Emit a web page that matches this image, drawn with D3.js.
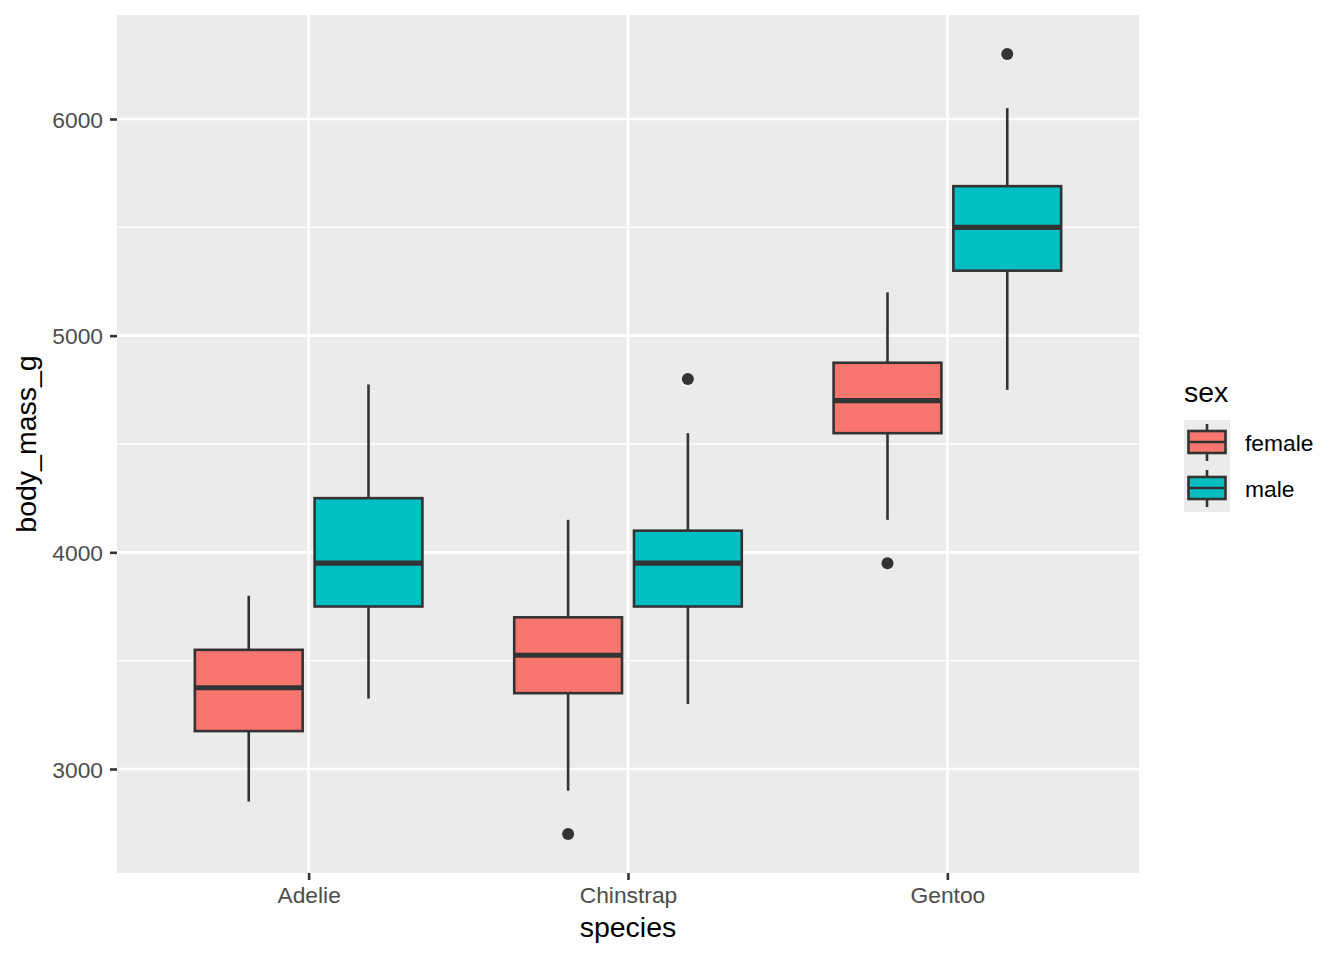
<!DOCTYPE html>
<html>
<head>
<meta charset="utf-8">
<script src="https://cdn.jsdelivr.net/npm/d3@7"></script>
<style>
  body { margin: 0; background: #fff; }
  text { font-family: "Liberation Sans", Arial, sans-serif; }
</style>
</head>
<body>
<svg id="chart" width="1344" height="960"></svg>
<script>
// boxplot stats, order: Adelie f/m, Chinstrap f/m, Gentoo f/m
const species = ["Adelie", "Chinstrap", "Gentoo"];
const sexes = ["female", "male"];
const lowerWhisker = [2850, 3325, 2900, 3300, 4150, 4750];
const q1 = [3175, 3750, 3350, 3750, 4550, 5300];
const median = [3375, 3950, 3525, 3950, 4700, 5500];
const q3 = [3550, 4250, 3700, 4100, 4875, 5690];
const upperWhisker = [3800, 4775, 4150, 4550, 5200, 6050];
const outliers = [
  {species: "Chinstrap", sex: "female", value: 2700},
  {species: "Chinstrap", sex: "male", value: 4800},
  {species: "Gentoo", sex: "female", value: 3950},
  {species: "Gentoo", sex: "male", value: 6300}
];
const yTicks = [3000, 4000, 5000, 6000];
const yMinor = [3500, 4500, 5500];
const fills = ["#F8766D", "#00BFC4"];

const boxes = [];
species.forEach((s, i) => sexes.forEach((g, j) => {
  const k = i * 2 + j;
  boxes.push({species: s, sex: g, lo: lowerWhisker[k], q1: q1[k], med: median[k], q3: q3[k], hi: upperWhisker[k]});
}));

const svg = d3.select("#chart");
const panel = {left: 117, right: 1139, top: 15, bottom: 873};
const ink = "#333333";
const lw = 2.6;
const tickFont = "22.8px", titleFont = "28.5px";

const x = d3.scalePoint().domain(species).range([panel.left, panel.right]).padding(0.6);
const dodge = x.step() * 0.75;
const xs = d3.scaleBand().domain(sexes).range([-dodge / 2, dodge / 2]);
const boxW = xs.bandwidth() * 0.9;
const y = d3.scaleLinear().domain([2520, 6480]).range([panel.bottom, panel.top]);
const color = d3.scaleOrdinal().domain(sexes).range(fills);
const cx = d => x(d.species) + xs(d.sex) + xs.bandwidth() / 2;

// panel
svg.append("rect")
  .attr("x", panel.left).attr("y", panel.top)
  .attr("width", panel.right - panel.left).attr("height", panel.bottom - panel.top)
  .attr("fill", "#EBEBEB");

const grid = svg.append("g");
grid.selectAll(".minor").data(yMinor).join("line")
  .attr("x1", panel.left).attr("x2", panel.right)
  .attr("y1", d => y(d)).attr("y2", d => y(d))
  .attr("stroke", "#fff").attr("stroke-width", lw / 2);
grid.selectAll(".major").data(yTicks).join("line")
  .attr("x1", panel.left).attr("x2", panel.right)
  .attr("y1", d => y(d)).attr("y2", d => y(d))
  .attr("stroke", "#fff").attr("stroke-width", lw);
grid.selectAll(".vmajor").data(species).join("line")
  .attr("x1", d => x(d)).attr("x2", d => x(d))
  .attr("y1", panel.top).attr("y2", panel.bottom)
  .attr("stroke", "#fff").attr("stroke-width", lw);

// boxes
const bx = svg.append("g").selectAll("g").data(boxes).join("g");
bx.append("line")
  .attr("x1", cx).attr("x2", cx)
  .attr("y1", d => y(d.hi)).attr("y2", d => y(d.q3))
  .attr("stroke", ink).attr("stroke-width", lw);
bx.append("line")
  .attr("x1", cx).attr("x2", cx)
  .attr("y1", d => y(d.q1)).attr("y2", d => y(d.lo))
  .attr("stroke", ink).attr("stroke-width", lw);
bx.append("rect")
  .attr("x", d => cx(d) - boxW / 2).attr("width", boxW)
  .attr("y", d => y(d.q3)).attr("height", d => y(d.q1) - y(d.q3))
  .attr("fill", d => color(d.sex)).attr("stroke", ink).attr("stroke-width", lw);
bx.append("line")
  .attr("x1", d => cx(d) - boxW / 2).attr("x2", d => cx(d) + boxW / 2)
  .attr("y1", d => y(d.med)).attr("y2", d => y(d.med))
  .attr("stroke", ink).attr("stroke-width", lw * 2);

svg.append("g").selectAll("circle").data(outliers).join("circle")
  .attr("cx", cx).attr("cy", d => y(d.value)).attr("r", 6)
  .attr("fill", ink);

// axes
const yAxis = svg.append("g")
  .attr("transform", `translate(${panel.left},0)`)
  .call(d3.axisLeft(y).tickValues(yTicks).tickSize(7).tickPadding(7).tickFormat(d3.format("d")));
const xAxis = svg.append("g")
  .attr("transform", `translate(0,${panel.bottom})`)
  .call(d3.axisBottom(x).tickSize(7).tickPadding(6));
[yAxis, xAxis].forEach(a => {
  a.select(".domain").remove();
  a.selectAll(".tick line").attr("stroke", ink).attr("stroke-width", lw);
  a.selectAll(".tick text").attr("fill", "#4D4D4D")
    .style("font-size", tickFont).style("font-family", "Liberation Sans, Arial, sans-serif");
});
yAxis.selectAll(".tick text").attr("dy", "0.36em");
xAxis.selectAll(".tick text").attr("dy", "0.74em");

svg.append("text")
  .attr("x", (panel.left + panel.right) / 2).attr("y", 937)
  .attr("text-anchor", "middle").style("font-size", titleFont).attr("fill", "#000")
  .text("species");
svg.append("text")
  .attr("transform", `translate(36,${(panel.top + panel.bottom) / 2}) rotate(-90)`)
  .attr("text-anchor", "middle").style("font-size", titleFont).attr("fill", "#000")
  .text("body_mass_g");

// legend
const lg = svg.append("g").attr("transform", "translate(1184,420)");
const keyH = 46, keyW = 46;
lg.append("text").attr("x", 0).attr("y", -18)
  .style("font-size", titleFont).attr("fill", "#000").text("sex");
const key = lg.selectAll("g").data(sexes).join("g")
  .attr("transform", (d, i) => `translate(0,${i * keyH})`);
key.append("rect").attr("width", keyW).attr("height", keyH).attr("fill", "#EBEBEB");
key.append("line")
  .attr("x1", keyW / 2).attr("x2", keyW / 2).attr("y1", 4).attr("y2", keyH - 5)
  .attr("stroke", ink).attr("stroke-width", lw);
key.append("rect")
  .attr("x", 4.5).attr("width", keyW - 9).attr("y", 11).attr("height", 22)
  .attr("fill", d => color(d)).attr("stroke", ink).attr("stroke-width", lw);
key.append("line")
  .attr("x1", 4.5).attr("x2", keyW - 4.5).attr("y1", 22).attr("y2", 22)
  .attr("stroke", ink).attr("stroke-width", lw);
key.append("text")
  .attr("x", 61).attr("y", 31)
  .style("font-size", tickFont).attr("fill", "#000").text(d => d);
</script>
</body>
</html>
